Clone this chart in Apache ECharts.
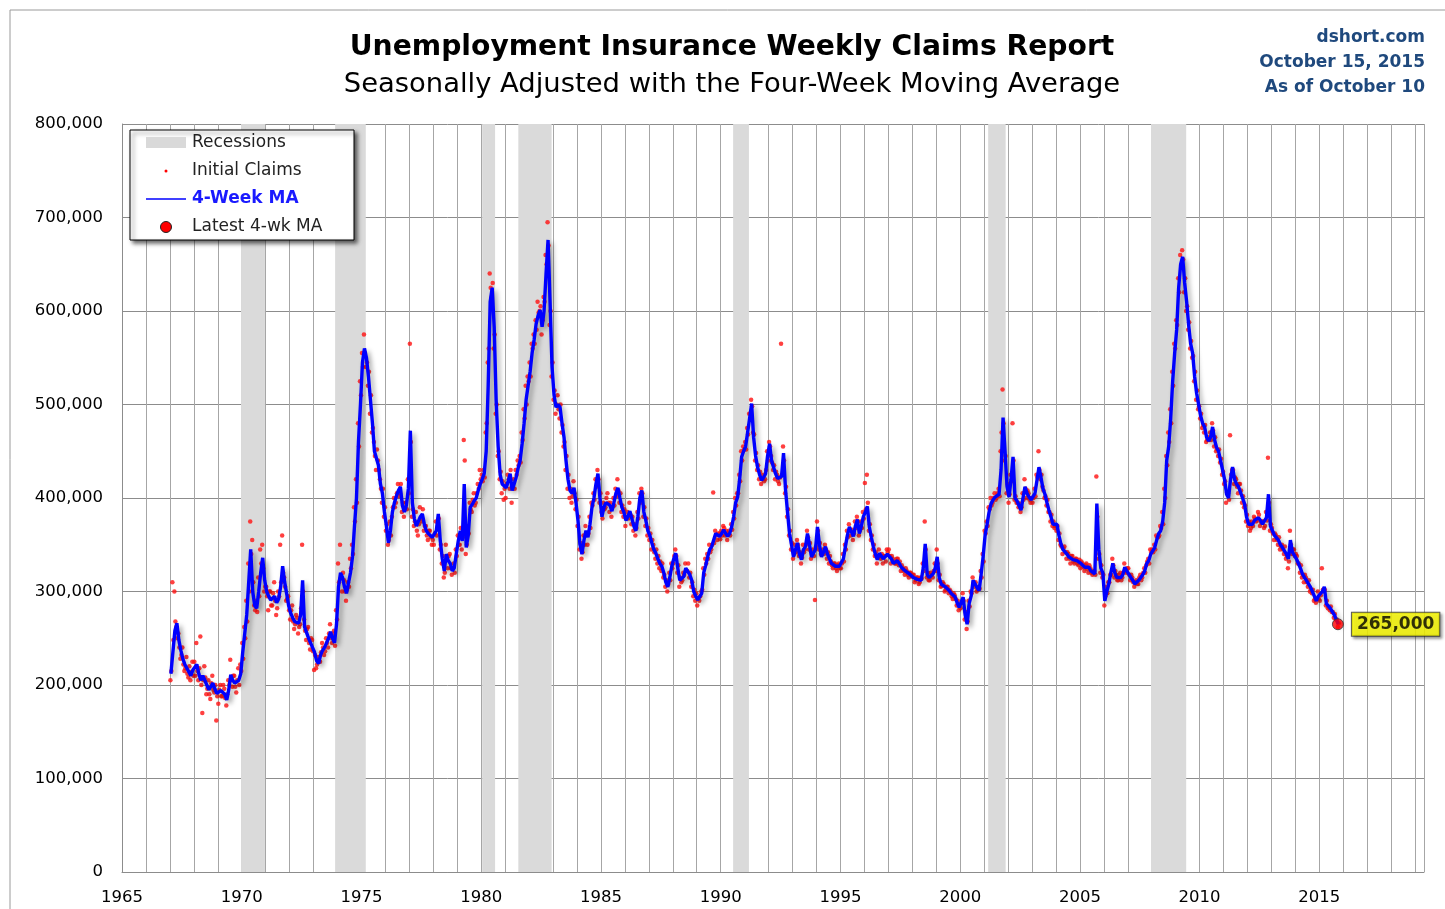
<!DOCTYPE html>
<html>
<head>
<meta charset="utf-8">
<script src="https://cdn.jsdelivr.net/npm/echarts@6/dist/echarts.min.js"></script>
<style>
html,body{margin:0;padding:0;background:#fff;}
#chart{width:1445px;height:909px;}
</style>
</head>
<body>
<div id="chart"></div>
<script>
// ---- Data (values in thousands, monthly from Jan 1967) ----
const startYear = 1967;
const ma4wk = [
212,235,258,266,248,237,228,222,220,214,210,216, // 1967
216,222,212,205,210,212,200,195,198,202,196,191, // 1968
191,194,196,190,184,195,211,205,202,200,205,212, // 1969
235,255,275,310,345,300,285,282,300,320,336,312, // 1970
300,295,291,293,295,288,292,305,327,310,298,285, // 1971
277,272,268,268,266,275,312,262,256,250,245,240, // 1972
235,226,223,232,237,240,242,250,257,250,245,265, // 1973
305,320,315,305,298,300,320,337,370,400,460,500, // 1974
545,560,550,530,505,480,450,448,435,415,405,385, // 1975
370,352,365,385,395,402,408,412,392,385,392,410, // 1976
472,395,378,370,369,380,383,372,365,362,361,358, // 1977
358,365,383,354,335,322,340,333,330,322,325,340, // 1978
354,365,354,415,347,360,390,393,397,400,408,415, // 1979
420,426,450,520,610,625,583,504,455,425,415,413, // 1980
411,418,426,408,415,422,432,440,458,480,505,520, // 1981
535,555,569,586,595,601,583,600,640,676,610,540, // 1982
510,497,500,497,480,465,440,420,408,405,411,395, // 1983
376,350,340,355,365,358,372,390,400,415,426,400, // 1984
380,390,395,397,392,386,395,405,411,400,390,385, // 1985
376,380,386,378,370,365,380,400,408,385,376,365, // 1986
360,352,345,341,335,330,327,320,310,305,315,327, // 1987
335,341,325,312,314,316,325,327,318,312,300,295, // 1988
291,292,298,320,328,337,345,348,355,362,360,359, // 1989
362,366,362,359,362,369,380,395,401,420,444,450, // 1990
455,470,485,501,465,445,433,425,419,422,426,445, // 1991
458,440,433,426,421,419,423,448,409,385,362,350, // 1992
337,345,352,340,334,345,348,362,350,337,341,345, // 1993
369,350,337,342,348,340,335,330,328,327,327,327, // 1994
327,335,348,360,369,364,359,370,377,362,370,380, // 1995
385,391,369,358,348,340,334,341,338,335,334,340, // 1996
340,335,330,332,333,330,326,324,322,320,319,318, // 1997
315,314,313,312,312,325,351,318,315,317,319,325, // 1998
337,315,308,306,305,303,301,298,296,294,288,283, // 1999
285,294,275,265,287,295,312,308,304,301,318,337, // 2000
360,372,385,394,398,401,403,404,430,486,450,412, // 2001
401,420,444,400,397,392,387,400,412,405,401,398, // 2002
397,405,419,433,422,410,404,395,387,380,372,372, // 2003
372,360,351,345,344,340,337,335,334,333,333,332, // 2004
330,328,326,326,326,322,320,319,394,345,325,320, // 2005
290,300,308,320,330,320,315,315,315,318,326,322, // 2006
320,315,312,308,310,312,315,318,322,330,333,340, // 2007
340,347,355,362,365,375,395,440,455,485,525,555, // 2008
580,625,650,658,630,610,585,565,555,530,512,500, // 2009
488,480,476,465,461,465,476,462,454,450,440,430, // 2010
420,404,400,420,433,420,415,412,410,400,394,380, // 2011
372,370,372,376,378,379,376,372,372,379,404,370, // 2012
365,360,358,355,350,347,345,340,335,355,342,340, // 2013
335,333,325,319,315,312,310,305,300,295,290,295, // 2014
294,300,305,287,285,282,280,275,273,265          // 2015
];
// Initial claims, first half of each month
const claimsEarly = [
205,310,300,262,255,228,240,215,230,208,205,225, // 1967
225,245,205,252,170,220,190,205,185,210,192,162, // 1968
180,200,188,196,178,205,227,198,210,192,218,222, // 1969
245,262,290,330,375,355,285,290,315,345,350,300, // 1970
305,280,300,285,310,275,300,350,360,315,290,295, // 1971
270,285,260,275,255,265,350,270,248,262,238,248, // 1972
216,218,230,225,245,232,250,240,265,245,258,280, // 1973
330,350,300,312,290,310,335,350,390,420,480,525, // 1974
555,575,540,520,490,470,460,430,440,420,395,380, // 1975
365,350,375,380,400,395,415,405,385,380,395,420, // 1976
565,380,370,385,360,390,375,365,370,355,365,350, // 1977
350,375,370,345,330,315,350,325,340,318,330,345, // 1978
360,350,345,462,340,370,395,385,405,395,415,430, // 1979
425,430,470,545,640,615,560,490,445,420,405,398, // 1980
400,425,410,395,420,430,440,445,470,495,520,530, // 1981
545,565,575,590,610,600,575,615,660,695,585,530, // 1982
505,490,510,485,470,455,430,410,400,395,418,388, // 1983
370,345,335,360,370,350,380,395,405,420,430,395, // 1984
385,395,390,405,385,380,400,410,420,395,385,380, // 1985
370,385,395,372,365,360,385,405,410,380,370,360, // 1986
355,345,350,335,330,325,322,315,305,300,320,330, // 1987
330,345,320,305,310,320,330,322,315,305,295,290, // 1988
285,290,300,325,335,340,350,345,406,365,355,362, // 1989
365,370,360,355,365,372,385,400,405,425,450,455, // 1990
460,475,490,505,470,440,430,420,415,425,420,450, // 1991
460,445,430,420,425,415,565,455,405,380,360,345, // 1992
335,350,355,338,330,350,345,365,345,335,345,291, // 1993
375,345,340,345,350,335,330,332,325,330,322,330, // 1994
325,340,350,365,372,360,355,375,380,360,375,385, // 1995
416,425,365,355,345,338,330,345,335,330,338,345, // 1996
345,330,335,330,335,328,322,325,318,322,315,320, // 1997
318,310,315,308,315,330,375,315,312,320,315,330, // 1998
345,312,305,310,300,305,298,300,292,296,285,280, // 1999
282,298,270,260,290,300,315,305,300,305,322,340, // 2000
365,375,390,400,395,405,400,410,450,516,440,405, // 2001
395,425,480,398,395,390,385,405,420,400,405,395, // 2002
395,410,425,450,420,412,400,392,385,375,370,368, // 2003
365,355,350,340,348,335,340,330,338,330,335,328, // 2004
325,330,322,330,320,325,318,322,423,335,320,315, // 2005
285,305,310,318,335,315,318,312,320,315,330,320, // 2006
325,312,315,305,312,308,318,315,325,328,335,345, // 2007
345,350,360,358,370,385,410,445,470,495,535,565, // 2008
590,635,660,665,620,600,580,560,550,525,505,495, // 2009
485,475,470,460,465,470,480,455,450,445,438,425, // 2010
415,395,405,467,430,415,420,405,415,395,390,375, // 2011
370,365,375,380,375,385,370,375,368,385,443,365, // 2012
368,355,360,350,345,350,340,335,325,365,340,345, // 2013
340,330,320,315,310,315,305,300,298,290,288,300, // 2014
290,325,300,285,282,280,278,272,270,262          // 2015
];
// Initial claims, second half of each month
const claimsLate = [
215,248,268,250,240,232,222,218,212,220,214,210, // 1967
210,215,218,200,205,208,196,190,202,195,200,188, // 1968
195,188,200,186,190,200,205,210,198,205,200,215, // 1969
228,250,268,300,340,310,280,278,295,330,325,305, // 1970
295,300,285,298,290,282,295,310,320,305,292,280, // 1971
280,268,265,272,262,282,300,258,260,245,250,236, // 1972
232,222,226,235,240,236,245,255,250,255,242,270, // 1973
310,315,320,300,302,305,325,340,375,395,455,510, // 1974
540,555,545,535,510,475,445,452,430,410,410,390, // 1975
372,355,360,390,390,405,402,415,395,390,388,405, // 1976
460,388,375,365,372,378,388,370,360,365,358,355, // 1977
362,360,378,350,338,320,335,338,325,325,320,338, // 1978
350,368,358,440,350,362,388,398,392,405,410,420, // 1979
418,422,480,560,625,630,575,500,450,428,418,410, // 1980
415,420,430,412,410,425,435,438,462,485,500,525, // 1981
530,560,565,580,598,605,590,610,650,670,600,545, // 1982
515,500,495,500,478,460,445,425,410,402,405,398, // 1983
380,352,342,350,362,362,368,392,398,412,420,405, // 1984
378,388,400,395,395,390,392,402,408,405,392,388, // 1985
380,378,382,380,372,368,378,395,405,390,378,368, // 1986
362,355,342,345,338,332,330,318,312,308,312,325, // 1987
338,338,328,315,312,318,322,330,320,310,302,298, // 1988
293,295,302,318,330,335,342,350,352,360,362,356, // 1989
360,368,365,362,360,366,378,392,405,418,440,452, // 1990
452,468,490,498,468,448,435,428,420,418,430,440, // 1991
455,438,435,428,418,422,425,440,412,388,365,352, // 1992
340,342,350,342,336,342,350,358,352,340,338,348, // 1993
365,352,340,340,345,342,338,328,330,325,328,325, // 1994
330,332,345,358,366,366,362,368,375,365,368,378, // 1995
388,395,372,360,350,342,336,338,340,338,332,342, // 1996
338,338,332,330,335,332,328,322,325,318,320,316, // 1997
318,312,315,310,314,322,345,320,312,318,322,322, // 1998
330,318,306,308,302,305,302,295,298,292,290,285, // 1999
288,290,278,268,284,298,310,310,302,303,315,332, // 2000
362,370,388,392,400,398,405,402,470,480,445,415, // 2001
404,418,440,402,395,394,390,398,410,408,398,400, // 2002
400,402,422,430,425,408,402,398,385,382,375,370, // 2003
370,362,348,346,342,342,335,338,332,335,330,334, // 2004
332,326,328,324,328,320,322,318,380,340,328,318, // 2005
295,298,310,318,328,322,312,318,312,320,322,325, // 2006
318,318,310,310,308,315,312,320,320,332,330,342, // 2007
342,345,358,360,368,372,400,435,460,480,520,560, // 2008
585,620,648,655,635,605,588,568,552,535,515,498, // 2009
490,478,478,462,462,462,472,465,452,452,442,428, // 2010
418,406,398,425,430,422,412,415,408,402,392,382, // 2011
375,368,370,378,376,382,374,375,370,376,395,372, // 2012
362,362,355,358,348,345,348,338,332,350,345,338, // 2013
338,330,328,318,318,310,312,302,302,292,292,292, // 2014
296,302,302,290,283,284,278,276,270,266          // 2015
];
const recessionStart = [1969.97, 1973.90, 1980.04, 1981.55, 1990.52, 2001.17, 2007.97];
const recessionEnd   = [1970.97, 1975.18, 1980.58, 1982.94, 1991.18, 2001.90, 2009.44];
const latestDate = 2015.775;
const latestValue = 265000;
const yTicks = [0,100000,200000,300000,400000,500000,600000,700000,800000];
const xLabelYears = [1965,1970,1975,1980,1985,1990,1995,2000,2005,2010,2015];

// ---- Build series data ----
const monthX = (i, f) => startYear + (i + f) / 12;
const maData = ma4wk.map((v, i) => [monthX(i, 0.5), v * 1000]);
const claimsData = claimsEarly.map((v, i) => [monthX(i, 0.25), v * 1000])
  .concat(claimsLate.map((v, i) => [monthX(i, 0.75), v * 1000]));
const recAreas = recessionStart.map((s, i) => [{xAxis: s}, {xAxis: recessionEnd[i]}]);

const FONT = '"DejaVu Sans", Verdana, sans-serif';
const chart = echarts.init(document.getElementById('chart'), null, {renderer: 'canvas'});
const fmt = v => v.toString().replace(/\B(?=(\d{3})+(?!\d))/g, ',');
const LZ = 100;

chart.setOption({
  animation: false,
  backgroundColor: '#ffffff',
  textStyle: {fontFamily: FONT},
  grid: {left: 122, right: 21, top: 124, bottom: 37, containLabel: false},
  xAxis: {
    type: 'value', min: 1965, max: 2019.37, interval: 1,
    axisLine: {show: true, lineStyle: {color: '#8c8c8c', width: 1}},
    axisTick: {show: false},
    axisLabel: {
      color: '#000', fontSize: 16.5, fontFamily: FONT, margin: 17,
      formatter: v => xLabelYears.indexOf(v) >= 0 ? String(v) : ''
    },
    splitLine: {show: true, lineStyle: {color: '#a6a6a6', width: 1}}
  },
  yAxis: {
    type: 'value', min: 0, max: 800000, interval: 100000,
    axisLine: {show: true, lineStyle: {color: '#8c8c8c', width: 1}},
    axisTick: {show: false},
    axisLabel: {color: '#000', fontSize: 16.5, fontFamily: FONT, margin: 19,
      formatter: v => yTicks.indexOf(v) >= 0 ? fmt(v) : ''},
    splitLine: {show: true, lineStyle: {color: '#8c8c8c', width: 1}}
  },
  series: [
    {
      name: 'Recessions', type: 'line', data: [], silent: true, z: 0,
      markArea: {silent: true, itemStyle: {color: '#dadada'}, data: recAreas}
    },
    {
      name: 'Initial Claims', type: 'scatter', data: claimsData, z: 2,
      symbolSize: 4.5, itemStyle: {color: '#ff1010'}, silent: true
    },
    {
      name: '4-Week MA', type: 'line', data: maData, z: 3, showSymbol: false,
      lineStyle: {color: '#0000ff', width: 3.4, shadowColor: 'rgba(0,0,0,0.35)',
        shadowBlur: 5, shadowOffsetX: 3, shadowOffsetY: 3},
      silent: true
    },
    {
      name: 'Latest 4-wk MA', type: 'scatter', data: [[latestDate, latestValue]], z: 5,
      symbolSize: 11, itemStyle: {color: '#ff0000', borderColor: '#333', borderWidth: 1},
      label: {
        show: true, position: 'right', distance: 8,
        formatter: p => fmt(p.value[1]),
        backgroundColor: '#ffff00', borderColor: '#333', borderWidth: 1,
        padding: [4, 5, 2, 5], color: '#000', fontSize: 17, fontWeight: 'bold', fontFamily: FONT,
        shadowColor: 'rgba(0,0,0,0.5)', shadowBlur: 3, shadowOffsetX: 2, shadowOffsetY: 2
      }
    }
  ],
  graphic: [
    // outer frame
    {type: 'polyline', shape: {points: [[10, 909], [10, 10], [1445, 10]]},
      style: {stroke: '#9a9a9a', lineWidth: 1, fill: null}},
    // titles
    {type: 'text', x: 732, y: 47.5, style: {text: 'Unemployment Insurance Weekly Claims Report',
      font: 'bold 28.2px ' + FONT, fill: '#000', align: 'center', verticalAlign: 'middle'}},
    {type: 'text', x: 732, y: 84.5, style: {text: 'Seasonally Adjusted with the Four-Week Moving Average',
      font: '27.4px ' + FONT, fill: '#000', align: 'center', verticalAlign: 'middle'}},
    {type: 'text', x: 1425, y: 38, style: {text: 'dshort.com', font: 'bold 17px ' + FONT, fill: '#1f497d', align: 'right', verticalAlign: 'middle'}},
    {type: 'text', x: 1425, y: 63, style: {text: 'October 15, 2015', font: 'bold 17px ' + FONT, fill: '#1f497d', align: 'right', verticalAlign: 'middle'}},
    {type: 'text', x: 1425, y: 88, style: {text: 'As of October 10', font: 'bold 17px ' + FONT, fill: '#1f497d', align: 'right', verticalAlign: 'middle'}},
    // legend
    {type: 'rect', z: LZ, shape: {x: 130, y: 130, width: 224, height: 110},
      style: {fill: '#fff', stroke: '#000', lineWidth: 1, shadowBlur: 4, shadowOffsetX: 3, shadowOffsetY: 3, shadowColor: 'rgba(0,0,0,0.6)'}},
    {type: 'rect', z: LZ + 1, shape: {x: 146, y: 137, width: 40, height: 11}, style: {fill: '#d9d9d9'}},
    {type: 'text', z: LZ + 1, x: 192, y: 143, style: {text: 'Recessions', font: '17px ' + FONT, fill: '#222', verticalAlign: 'middle'}},
    {type: 'circle', z: LZ + 1, shape: {cx: 166, cy: 171, r: 1.5}, style: {fill: '#ff0000'}},
    {type: 'text', z: LZ + 1, x: 192, y: 171, style: {text: 'Initial Claims', font: '17px ' + FONT, fill: '#222', verticalAlign: 'middle'}},
    {type: 'line', z: LZ + 1, shape: {x1: 146, y1: 199, x2: 186, y2: 199}, style: {stroke: '#0000ff', lineWidth: 1.5}},
    {type: 'text', z: LZ + 1, x: 192, y: 199, style: {text: '4-Week MA', font: 'bold 17px ' + FONT, fill: '#1a1aff', verticalAlign: 'middle'}},
    {type: 'circle', z: LZ + 1, shape: {cx: 166, cy: 227, r: 5.5}, style: {fill: '#ff0000', stroke: '#222', lineWidth: 1}},
    {type: 'text', z: LZ + 1, x: 192, y: 227, style: {text: 'Latest 4-wk MA', font: '17px ' + FONT, fill: '#222', verticalAlign: 'middle'}}
  ]
});
</script>
</body>
</html>
